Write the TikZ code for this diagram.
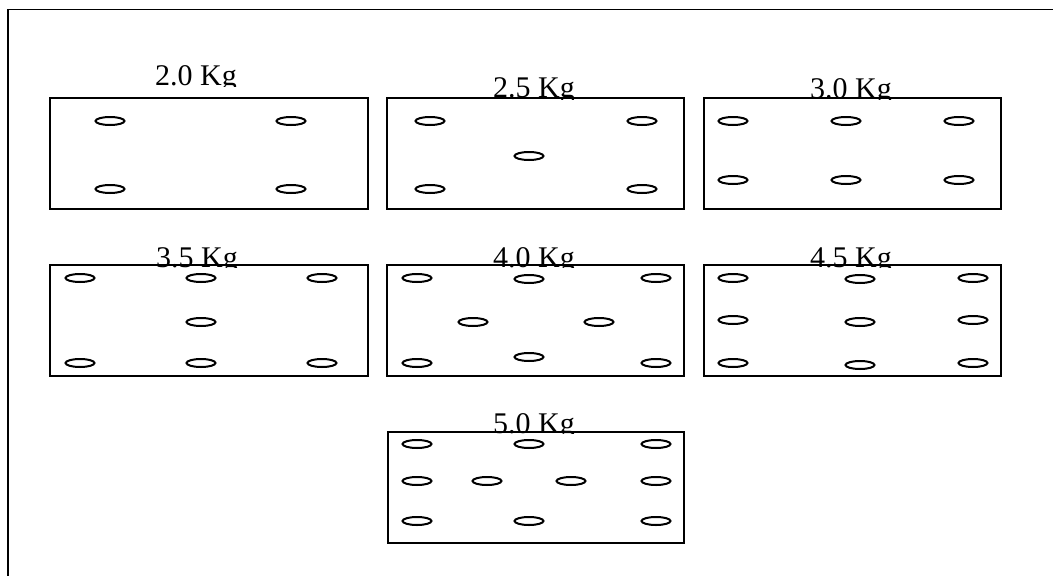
\documentclass[tikz,border=0pt]{standalone}
\usepackage{fontspec}
\setmainfont{Liberation Serif}
\tikzset{
  plate/.style={draw=black, line width=1.7pt},
  hole/.style={draw=black, line width=2pt},
  frame/.style={draw=black, line width=1.8pt},
  lbl/.style={anchor=base, inner sep=0pt, font=\fontsize{30}{31}\selectfont}
}
\newcommand{\hl}[2]{\draw[hole] (#1,#2) ellipse (14.5 and 4);}
\newcommand{\lab}[5]{% name, x, baseline, clip y, text
  \begin{scope}
    \clip (#2-70,#3-35) rectangle (#2+70,#4);
    \node[lbl] (#1) at (#2,#3) {#5};
  \end{scope}}
\begin{document}
\begin{tikzpicture}[x=1pt,y=-1pt]
\useasboundingbox (0,0) rectangle (1053,576);
% outer frame (open at right and bottom)
\coordinate (fa) at (8,576);
\coordinate (fb) at (8,9.5);
\coordinate (fc) at (1053,9.5);
\draw[frame] (fa) -- (fb) -- (fc);

% row 1
\draw[plate] (50,98) rectangle (368,209);
\draw[plate] (387,98) rectangle (684,209);
\draw[plate] (704,98) rectangle (1001,209);
% row 2
\draw[plate] (50,265) rectangle (368,376);
\draw[plate] (387,265) rectangle (684,376);
\draw[plate] (704,265) rectangle (1001,376);
% row 3
\draw[plate] (388,432) rectangle (684,543);

% labels
\lab{l20}{196}{85}{86.5}{2.0 Kg}
\lab{l25}{534}{97}{99}{2.5 Kg}
\lab{l30}{851}{98}{99}{3.0 Kg}
\lab{l35}{197}{267}{267.5}{3.5 Kg}
\lab{l40}{534}{267}{267.5}{4.0 Kg}
\lab{l45}{851}{267}{267.5}{4.5 Kg}
\lab{l50}{534}{433}{433.5}{5.0 Kg}

% 2.0 Kg
\hl{110}{121}\hl{291}{121}
\hl{110}{189}\hl{291}{189}
% 2.5 Kg
\hl{430}{121}\hl{642}{121}
\hl{529}{156}
\hl{430}{189}\hl{642}{189}
% 3.0 Kg
\hl{733}{121}\hl{846}{121}\hl{959}{121}
\hl{733}{180}\hl{846}{180}\hl{959}{180}
% 3.5 Kg
\hl{80}{278}\hl{201}{278}\hl{322}{278}
\hl{201}{322}
\hl{80}{363}\hl{201}{363}\hl{322}{363}
% 4.0 Kg
\hl{417}{278}\hl{529}{279}\hl{656}{278}
\hl{473}{322}\hl{599}{322}
\hl{417}{363}\hl{529}{357}\hl{656}{363}
% 4.5 Kg
\hl{733}{278}\hl{860}{279}\hl{973}{278}
\hl{733}{320}\hl{860}{322}\hl{973}{320}
\hl{733}{363}\hl{860}{365}\hl{973}{363}
% 5.0 Kg
\hl{417}{444}\hl{529}{444}\hl{656}{444}
\hl{417}{481}\hl{487}{481}\hl{571}{481}\hl{656}{481}
\hl{417}{521}\hl{529}{521}\hl{656}{521}
\end{tikzpicture}
\end{document}
